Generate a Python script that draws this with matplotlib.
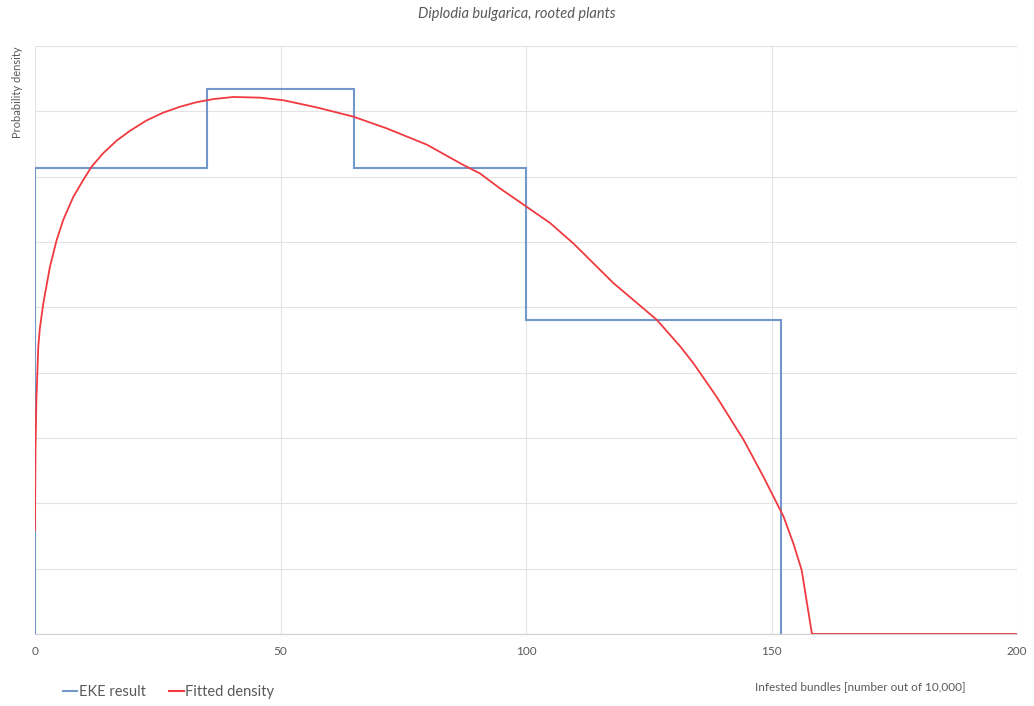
import matplotlib
matplotlib.use("Agg")
from matplotlib import pyplot as plt
from matplotlib.lines import Line2D
import numpy as np

plt.rcParams["font.family"] = ["Lato", "DejaVu Sans"]

# EKE result: bin edges and density per bin
eke_edges = [0, 35, 65, 100, 152]
eke_density = [0.00714, 0.00834, 0.00714, 0.00481]

# fitted density
fit_x = [0, 0.1, 0.3, 0.68, 1.0, 1.7, 3.05, 4.42, 5.77, 7.8, 9.84, 11.5, 13.9,
         16.6, 19.3, 22.7, 26.1, 29.5, 32.9, 36.5, 40.4, 45.8, 50.6, 57.4, 64.8,
         71.6, 79.8, 87.2, 90.6, 94.7, 100.1, 104.9, 109.6, 117.8, 126.6, 131.4,
         134.1, 138.8, 144.3, 148.3, 152.4, 154.4, 156.1, 158.2, 200]
fit_y = [0.00159, 0.0028, 0.0036, 0.0044, 0.00468, 0.00506, 0.00562, 0.00603,
         0.00634, 0.00669, 0.00695, 0.00715, 0.00736, 0.00755, 0.00770, 0.00786,
         0.00798, 0.00807, 0.00814, 0.00819, 0.00822, 0.00821, 0.00817, 0.00806,
         0.00792, 0.00774, 0.00749, 0.00718, 0.00705, 0.00682, 0.00654, 0.00629,
         0.00598, 0.00537, 0.00481, 0.00440, 0.00414, 0.00363, 0.00297, 0.00241,
         0.00180, 0.00139, 0.00098, 0.0, 0.0]

xticks = [0, 50, 100, 150, 200]

blue = "#7396CB"
red = "#F03A3F"
grey_text = "#595959"

fig = plt.figure(figsize=(10.34, 7.06), dpi=100)
ax = fig.add_axes([0.0338, 0.102, 0.95, 0.8328])

ax.stairs(eke_density, eke_edges, baseline=0, color=blue, lw=1.5, zorder=3)
ax.plot(fit_x, fit_y, color=red, lw=1.3, zorder=4)

ax.set_xlim(0, 200)
ax.set_ylim(0, 0.009)
ax.set_xticks(xticks)
ax.set_yticks(np.arange(0, 0.0091, 0.001))
ax.set_yticklabels([])
ax.grid(True, color="#E3E3E3", lw=0.8, zorder=0)
for s in ["top", "right", "left"]:
    ax.spines[s].set_visible(False)
ax.spines["bottom"].set_color("#D0D0D0")
ax.tick_params(axis="both", length=0, colors=grey_text, labelsize=8.5)
ax.tick_params(axis="x", pad=9)

fig.text(0.5, 0.98, "Diplodia bulgarica, rooted plants", ha="center", va="center",
         fontsize=10.5, style="italic", color=grey_text)
fig.text(0.0165, 0.935, "Probability density", rotation=90, ha="center", va="top",
         fontsize=8, color=grey_text)
fig.text(0.832, 0.028, "Infested bundles [number out of 10,000]", ha="center",
         va="center", fontsize=8.5, color=grey_text)

handles = [Line2D([], [], color=blue, lw=1.5), Line2D([], [], color=red, lw=1.5)]
leg = fig.legend(handles, ["EKE result", "Fitted density"], loc="center left",
                 bbox_to_anchor=(0.048, 0.02), ncol=2, frameon=False, fontsize=10.5,
                 handlelength=1.0, handletextpad=0.1, columnspacing=1.6)
for t in leg.get_texts():
    t.set_color(grey_text)

fig.savefig("out.png", dpi=100)
